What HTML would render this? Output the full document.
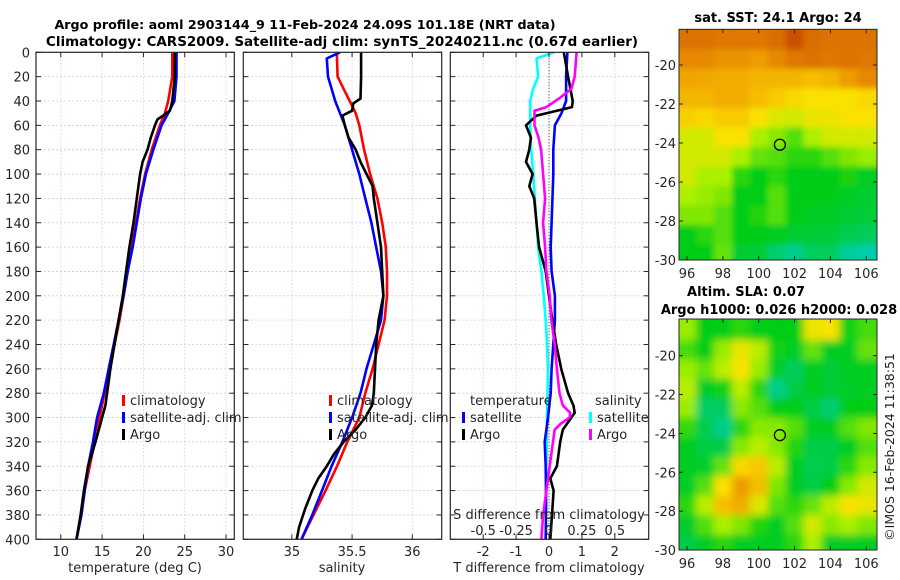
<!DOCTYPE html>
<html><head><meta charset="utf-8"><style>
html,body{margin:0;padding:0;background:#fff}
svg{display:block;font-family:"DejaVu Sans","Liberation Sans",sans-serif}
</style></head><body>
<svg id="fig" width="900" height="580" viewBox="0 0 900 580" xmlns="http://www.w3.org/2000/svg">
<defs>
<clipPath id="c1"><rect x="36" y="52.3" width="198.3" height="487"/></clipPath>
<clipPath id="c2"><rect x="243.3" y="52.3" width="198.4" height="487"/></clipPath>
<clipPath id="c3"><rect x="450.3" y="52.3" width="198.4" height="487"/></clipPath>
<clipPath id="cm1"><rect x="679" y="29.3" width="198" height="230.7"/></clipPath>
<clipPath id="cm2"><rect x="679" y="319" width="198" height="231"/></clipPath>
<filter id="blur" x="-10%" y="-10%" width="120%" height="120%"><feGaussianBlur stdDeviation="4" edgeMode="duplicate"/></filter>
<filter id="blur1" x="-10%" y="-10%" width="120%" height="120%"><feGaussianBlur stdDeviation="3" edgeMode="duplicate"/></filter>
</defs>
<g id="root"></g>
<text x="305" y="29" text-anchor="middle" font-size="12.7" font-weight="bold">Argo profile: aoml 2903144_9 11-Feb-2024 24.09S 101.18E (NRT data)</text>
<text x="342" y="46" text-anchor="middle" font-size="13.5" font-weight="bold">Climatology: CARS2009. Satellite-adj clim: synTS_20240211.nc (0.67d earlier)</text>
<text x="778" y="22" text-anchor="middle" font-size="13" font-weight="bold">sat. SST: 24.1 Argo: 24</text>
<text x="746" y="296" text-anchor="middle" font-size="13" font-weight="bold">Altim. SLA: 0.07</text>
<text x="779" y="314" text-anchor="middle" font-size="13" font-weight="bold">Argo h1000: 0.026 h2000: 0.028</text>
<text x="0" y="0" transform="translate(894,447) rotate(-90)" text-anchor="middle" font-size="12.5" fill="#222">©IMOS 16-Feb-2024 11:38:51</text>
</svg>
<script>
// ---- depth profile data ----
const depthT = [0,20,40,50,60,80,100,120,140,160,180,200,220,240,260,280,300,320,340,360,380,400];
const tempClim = [23.5,23.5,23.0,22.6,22.0,21.0,20.2,19.6,19.1,18.6,18.1,17.6,17.1,16.5,15.9,15.3,14.7,14.1,13.5,12.9,12.5,11.9];
const tempSat = [24.0,24.0,23.75,23.0,22.2,21.2,20.3,19.7,19.2,18.7,18.1,17.6,17.0,16.4,15.8,15.2,14.4,13.9,13.3,12.9,12.5,11.9];
const depthTA = [0,20,40,48,52,55,60,70,80,90,100,120,140,160,180,200,220,240,260,280,290,300,320,340,360,380,400];
const tempArgo = [23.8,23.8,23.5,23.2,22.4,21.7,21.4,20.9,20.5,19.9,19.6,19.2,18.8,18.3,17.9,17.5,17.0,16.5,16.0,15.6,15.4,15.0,14.2,13.3,12.8,12.4,11.9];
const depthS = [0,5,20,30,40,50,60,80,100,120,140,160,180,200,220,240,260,280,300,320,340,360,380,400];
const salClim = [35.375,35.375,35.38,35.43,35.48,35.53,35.56,35.6,35.65,35.71,35.75,35.78,35.79,35.79,35.77,35.72,35.67,35.61,35.56,35.46,35.375,35.28,35.18,35.08];
const salSat = [35.40,35.29,35.30,35.33,35.36,35.40,35.44,35.5,35.56,35.61,35.66,35.70,35.74,35.76,35.74,35.68,35.62,35.57,35.50,35.42,35.33,35.25,35.17,35.08];
const depthSA = [0,20,38,42,48,52,60,70,80,90,100,110,120,140,160,180,200,220,240,260,280,290,300,310,320,330,340,350,360,375,390,400];
const salArgo = [35.575,35.575,35.57,35.51,35.5,35.42,35.44,35.47,35.53,35.57,35.62,35.67,35.68,35.71,35.74,35.75,35.76,35.72,35.70,35.69,35.68,35.665,35.61,35.53,35.43,35.35,35.29,35.22,35.17,35.11,35.06,35.04];
// ---- differences from climatology ----
const depthDTA = [0,20,40,45,52,60,70,80,90,100,110,120,140,160,180,200,220,240,260,280,290,296,310,320,340,350,360,380,400];
const dTArgo = [0.45,0.58,0.72,0.7,-0.38,-0.7,-0.55,-0.6,-0.7,-0.5,-0.6,-0.45,-0.38,-0.3,-0.1,0,0.1,0.22,0.37,0.58,0.74,0.78,0.42,0.34,0.24,0.04,0.14,0.09,0.04];
const depthDTS = [0,20,40,50,60,80,100,140,160,180,200,220,240,260,280,300,320,340,360,380,400];
const dTSat = [0.56,0.52,0.52,0.38,0.18,0.13,0.13,0.08,0.05,0.08,0.18,0.18,0.13,0.08,0.05,-0.03,-0.13,-0.1,-0.09,-0.09,-0.1];
const depthDSA = [0,20,30,38,45,48,60,70,80,100,120,140,160,180,200,220,240,260,280,290,296,300,305,310,320,340,360,380,400];
const dSArgo = [0.21,0.195,0.17,0.075,-0.02,-0.11,-0.11,-0.08,-0.06,-0.045,-0.03,-0.045,-0.03,-0.02,0.005,0.018,0.043,0.06,0.08,0.105,0.16,0.158,0.09,0.043,0.03,0.005,-0.02,-0.045,-0.058];
const depthDSS = [0,5,20,30,40,60,80,100,140,160,180,200,220,240,260,300,340,400];
const dSSat = [0.04,-0.095,-0.083,-0.12,-0.143,-0.143,-0.135,-0.12,-0.095,-0.083,-0.058,-0.04,-0.025,-0.015,-0.008,-0.015,-0.02,-0.025];
// ---- axis ticks ----
const depthTicks = [0,20,40,60,80,100,120,140,160,180,200,220,240,260,280,300,320,340,360,380,400];
const tempTicks = [10,15,20,25,30];
const salTicks = [35,35.5,36];
const salTickLabels = ["35","35.5","36"];
const dTTicks = [-2,-1,0,1,2];
const dSTicks = [-0.5,-0.25,0,0.25,0.5];
const lonTicks = [96,98,100,102,104,106];
const latTicks = [-20,-22,-24,-26,-28,-30];
// ---- map grids (normalized colour value 0=cyan .. 1=red) ----
const sstLons = [96,97,98,99,100,101,102,103,104,105,106];
const sstLats = [-18.7,-19.7,-20.7,-21.7,-22.7,-23.7,-24.7,-25.7,-26.7,-27.7,-28.7,-29.7];
const sstGrid = [
[0.85,0.85,0.84,0.84,0.84,0.86,0.92,0.86,0.85,0.85,0.85],
[0.80,0.80,0.78,0.78,0.76,0.80,0.84,0.85,0.84,0.85,0.84],
[0.74,0.73,0.72,0.72,0.70,0.70,0.70,0.68,0.70,0.76,0.80],
[0.70,0.70,0.72,0.72,0.68,0.65,0.62,0.60,0.60,0.60,0.62],
[0.64,0.62,0.65,0.65,0.60,0.56,0.55,0.58,0.58,0.60,0.60],
[0.55,0.55,0.60,0.60,0.50,0.46,0.40,0.50,0.55,0.55,0.55],
[0.55,0.55,0.55,0.50,0.42,0.40,0.35,0.35,0.40,0.45,0.48],
[0.55,0.50,0.50,0.35,0.30,0.35,0.30,0.30,0.30,0.33,0.28],
[0.50,0.48,0.45,0.30,0.30,0.40,0.30,0.30,0.30,0.27,0.25],
[0.45,0.45,0.40,0.30,0.34,0.40,0.30,0.28,0.27,0.25,0.24],
[0.30,0.35,0.40,0.30,0.30,0.28,0.25,0.24,0.24,0.20,0.18],
[0.30,0.30,0.42,0.25,0.24,0.15,0.10,0.18,0.18,0.08,0.05]];
const slaLons = [96,97,98,99,100,101,102,103,104,105,106];
const slaLats = [-18.7,-19.7,-20.7,-21.7,-22.7,-23.7,-24.7,-25.7,-26.7,-27.7,-28.7,-29.7];
const slaGrid = [
[0.48,0.30,0.30,0.35,0.30,0.30,0.30,0.58,0.60,0.32,0.38],
[0.38,0.30,0.48,0.58,0.52,0.32,0.28,0.42,0.28,0.28,0.42],
[0.48,0.42,0.52,0.60,0.48,0.26,0.18,0.28,0.24,0.28,0.28],
[0.52,0.26,0.32,0.52,0.35,0.10,0.22,0.28,0.25,0.26,0.28],
[0.48,0.16,0.18,0.46,0.40,0.30,0.30,0.22,0.15,0.30,0.30],
[0.36,0.20,0.10,0.35,0.46,0.46,0.40,0.28,0.28,0.40,0.45],
[0.28,0.22,0.22,0.46,0.52,0.46,0.34,0.22,0.22,0.28,0.40],
[0.28,0.26,0.42,0.62,0.66,0.52,0.28,0.20,0.22,0.35,0.46],
[0.28,0.40,0.60,0.76,0.68,0.45,0.28,0.22,0.30,0.46,0.55],
[0.35,0.52,0.68,0.72,0.56,0.40,0.35,0.42,0.52,0.60,0.58],
[0.26,0.40,0.50,0.45,0.34,0.28,0.40,0.55,0.46,0.50,0.45],
[0.22,0.28,0.35,0.28,0.28,0.28,0.35,0.50,0.28,0.28,0.28]];
const argoLon = 101.18, argoLat = -24.09;

const NS='http://www.w3.org/2000/svg';
const root=document.getElementById('root');
function mk(tag,attrs,parent){const e=document.createElementNS(NS,tag);for(const k in attrs)e.setAttribute(k,attrs[k]);(parent||root).appendChild(e);return e;}
function txt(x,y,s,size,anchor,parent){const t=mk('text',{x:x,y:y,'font-size':size,'text-anchor':anchor||'middle',fill:'#262626'},parent);t.textContent=s;return t;}

const Y0=52.3,Y1=539.3;
const yD=d=>Y0+(Y1-Y0)*d/400;
function linScale(d0,d1,r0,r1){return v=>r0+(v-d0)*(r1-r0)/(d1-d0);}
const P1={x0:36,x1:234.3},P2={x0:243.3,x1:441.7},P3={x0:450.3,x1:648.7};
const xT=linScale(7,31,P1.x0,P1.x1);
const xS=linScale(34.597,36.244,P2.x0,P2.x1);
const xDT=linScale(-3.0,3.03,P3.x0,P3.x1);
const xDS=v=>xDT(v*4);

function grid(P,xticks,fx,g){
  xticks.forEach(v=>{const x=fx(v);const l=mk('line',{x1:x,x2:x,y1:Y0,y2:Y1,stroke:'#e8c8b8','stroke-width':0.8,'stroke-dasharray':'1.5,2'},g);
  
  });
  depthTicks.forEach(d=>{const y=yD(d);const l=mk('line',{x1:P.x0,x2:P.x1,y1:y,y2:y,stroke:'#c8cceb','stroke-width':0.8,'stroke-dasharray':'2,2'},g);
  
  });
}
function frame(P,xticks,fx,g){
  mk('rect',{x:P.x0,y:Y0,width:P.x1-P.x0,height:Y1-Y0,fill:'none',stroke:'#262626','stroke-width':1.2},g);
  depthTicks.forEach(d=>{const y=yD(d);mk('line',{x1:P.x0,x2:P.x0+5,y1:y,y2:y,stroke:'#262626'},g);mk('line',{x1:P.x1-5,x2:P.x1,y1:y,y2:y,stroke:'#262626'},g);});
  xticks.forEach(v=>{const x=fx(v);mk('line',{x1:x,x2:x,y1:Y1,y2:Y1-5,stroke:'#262626'},g);mk('line',{x1:x,x2:x,y1:Y0,y2:Y0+5,stroke:'#262626'},g);});
}
function line(xs,ds,fx,color,g,name,clip){
  const pts=xs.map((v,i)=>fx(v).toFixed(1)+','+yD(ds[i]).toFixed(1)).join(' ');
  const p=mk('polyline',{points:pts,fill:'none',stroke:color,'stroke-width':2.6,'stroke-linejoin':'round','clip-path':'url(#'+clip+')'},g);
  
  
}
function legendEntry(x,y,color,label,g,name){
  const e=mk('g',{},g);
  
  
  mk('rect',{x:x,y:y-10,width:3,height:11,fill:color},e);
  txt(x+8,y,label,13,'start',e);
}

// Panel 1
const g1=mk('g',{});


grid(P1,tempTicks,xT,g1);
line(tempClim,depthT,xT,'#ff0000',g1,'temperature-climatology-line','c1');
line(tempSat,depthT,xT,'#0000ff',g1,'temperature-satellite-line','c1');
line(tempArgo,depthTA,xT,'#000000',g1,'temperature-argo-line','c1');
frame(P1,tempTicks,xT,g1);
depthTicks.forEach(d=>{const t=txt(30,yD(d)+5,String(d),13,'end',g1);});
tempTicks.forEach(v=>{const t=txt(xT(v),556,String(v),13,'middle',g1);});
const xl1=txt(135,572,'temperature (deg C)',13,'middle',g1);


legendEntry(122,405,'#ff0000','climatology',g1,'legend-climatology');
legendEntry(122,422,'#0000ff','satellite-adj. clim',g1,'legend-satellite-adj');
legendEntry(122,439,'#000000','Argo',g1,'legend-argo');

// Panel 2
const g2=mk('g',{});


grid(P2,salTicks,xS,g2);
line(salClim,depthS,xS,'#ff0000',g2,'salinity-climatology-line','c2');
line(salSat,depthS,xS,'#0000ff',g2,'salinity-satellite-line','c2');
line(salArgo,depthSA,xS,'#000000',g2,'salinity-argo-line','c2');
frame(P2,salTicks,xS,g2);
salTicks.forEach((v,i)=>{const t=txt(xS(v),556,salTickLabels[i],13,'middle',g2);});
const xl2=txt(342,572,'salinity',13,'middle',g2);


legendEntry(329,405,'#ff0000','climatology',g2,'legend-climatology');
legendEntry(329,422,'#0000ff','satellite-adj. clim',g2,'legend-satellite-adj');
legendEntry(329,439,'#000000','Argo',g2,'legend-argo');

// Panel 3
const g3=mk('g',{});


grid(P3,dTTicks,xDT,g3);
const zl=mk('line',{x1:xDT(0),x2:xDT(0),y1:Y0,y2:Y1,stroke:'#333','stroke-width':1,'stroke-dasharray':'1,2'},g3);


line(dSSat,depthDSS,xDS,'#00ffff',g3,'salinity-diff-satellite-line','c3');
line(dTSat,depthDTS,xDT,'#0000ff',g3,'temperature-diff-satellite-line','c3');
line(dTArgo,depthDTA,xDT,'#000000',g3,'temperature-diff-argo-line','c3');
line(dSArgo,depthDSA,xDS,'#ff00ff',g3,'salinity-diff-argo-line','c3');
frame(P3,dTTicks,xDT,g3);
dTTicks.forEach(v=>{const t=txt(xDT(v),556,String(v),13,'middle',g3);});
dSTicks.forEach(v=>{const t=txt(xDS(v),535,String(v),13,'middle',g3);});
const sl=txt(549,519,'S difference from climatology',13,'middle',g3);


const tl=txt(549,572,'T difference from climatology',13,'middle',g3);


const lt=txt(470,405,'temperature',13,'start',g3);


const ls=txt(595,405,'salinity',13,'start',g3);


legendEntry(462,422,'#0000ff','satellite',g3,'legend-t-satellite');
legendEntry(462,439,'#000000','Argo',g3,'legend-t-argo');
legendEntry(589,422,'#00ffff','satellite',g3,'legend-s-satellite');
legendEntry(589,439,'#ff00ff','Argo',g3,'legend-s-argo');

// colormap
const cstops=[[0,[0,205,200]],[0.3,[0,205,20]],[0.5,[170,240,0]],[0.6,[250,225,0]],[0.75,[240,160,0]],[0.85,[220,115,0]],[1,[180,40,0]]];
function cmap(v){v=Math.max(0,Math.min(1,v));for(let i=1;i<cstops.length;i++){if(v<=cstops[i][0]){const a=cstops[i-1],b=cstops[i];const t=(v-a[0])/(b[0]-a[0]);const c=a[1].map((x,k)=>Math.round(x+(b[1][k]-x)*t));return 'rgb('+c.join(',')+')';}}return 'rgb(180,40,0)';}

function drawMap(M,lons,lats,gridv,clip,filt,name){
  const g=mk('g',{});
  
  
  const fx=linScale(95.55,106.6,M.x0,M.x1);
  const fy=linScale(M.latRef,-30,M.yRef,M.yB);
  const inner=mk('g',{'clip-path':'url(#'+clip+')'},g);
  const cells=mk('g',{filter:'url(#'+filt+')'},inner);
  const dlon=1.0,dlat=1.0;
  gridv.forEach((row,r)=>row.forEach((v,c)=>{
    const x0=fx(lons[c]-dlon/2-(c==0?1:0)),x1=fx(lons[c]+dlon/2+(c==lons.length-1?1:0));
    const y0=fy(lats[r]+dlat/2+(r==0?1:0)),y1=fy(lats[r]-dlat/2-(r==lats.length-1?1:0));
    const rc=mk('rect',{x:x0.toFixed(1),y:y0.toFixed(1),width:(x1-x0+0.6).toFixed(1),height:(y1-y0+0.6).toFixed(1),fill:cmap(v)},cells);
    
    
  }));
  mk('rect',{x:M.x0,y:M.yT,width:M.x1-M.x0,height:M.yB-M.yT,fill:'none',stroke:'#262626','stroke-width':1},g);
  const dot=mk('circle',{cx:fx(argoLon),cy:fy(argoLat),r:5.5,fill:'none',stroke:'#000','stroke-width':1.3},g);
  
  
  latTicks.forEach(v=>{const y=fy(v);mk('line',{x1:M.x0,x2:M.x0+4,y1:y,y2:y,stroke:'#262626'},g);mk('line',{x1:M.x1-4,x2:M.x1,y1:y,y2:y,stroke:'#262626'},g);
    const t=txt(M.x0-3,y+5,String(v),13,'end',g);});
  lonTicks.forEach(v=>{const x=fx(v);mk('line',{x1:x,x2:x,y1:M.yB,y2:M.yB-4,stroke:'#262626'},g);mk('line',{x1:x,x2:x,y1:M.yT,y2:M.yT+4,stroke:'#262626'},g);
    if(M.lonLabels){const t=txt(x,M.yB+18,String(v),13,'middle',g);}});
}
drawMap({x0:679,x1:877,yT:29.3,yB:260,latRef:-20,yRef:65,lonLabels:true},sstLons,sstLats,sstGrid,'cm1','blur1','sst-map');
drawMap({x0:679,x1:877,yT:319,yB:550,latRef:-20,yRef:355.7,lonLabels:true},slaLons,slaLats,slaGrid,'cm2','blur','sla-map');
</script>
</body></html>
